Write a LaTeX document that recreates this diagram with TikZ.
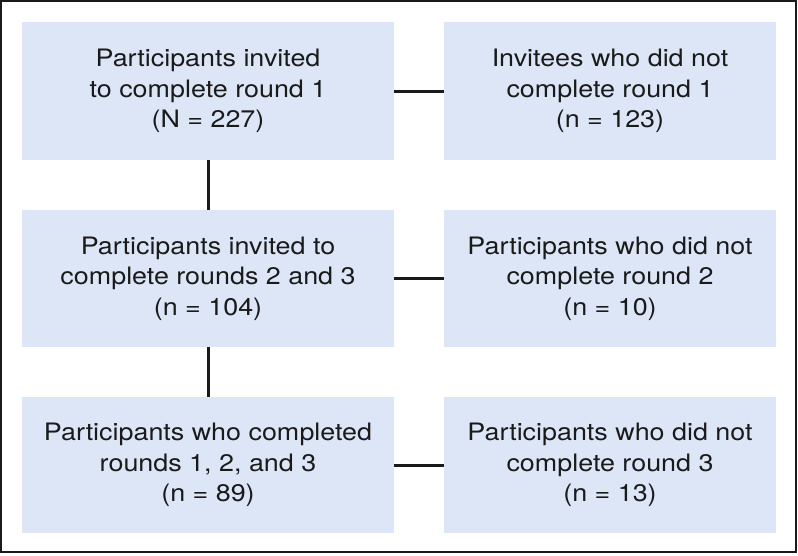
\documentclass[tikz,border=0pt]{standalone}
\usepackage{fontspec}
\setmainfont{TeX Gyre Heros}[FakeStretch=1.12]
\definecolor{boxfill}{HTML}{DCE6F7}
\definecolor{ink}{HTML}{1A1A1A}
\begin{document}
\begin{tikzpicture}[x=1pt,y=-1pt,
  flowbox/.style={fill=boxfill, draw=none, minimum width=#1, align=center, inner sep=0pt,
    font=\fontsize{24}{30.5}\selectfont, text=ink},
  flowbox/.default=372pt,
  link/.style={draw=ink, line width=3pt}]
\useasboundingbox (0,0) rectangle (798,555);
\draw[ink, line width=2pt] (1,1) rectangle (796,552);
% left column boxes
\node[flowbox=372pt, minimum height=138pt] (a1) at (208,91) {Participants invited\\to complete round 1\\(N = 227)};
\node[flowbox=372pt, minimum height=137pt] (a2) at (208,278.5) {Participants invited to\\complete rounds 2 and 3\\(n = 104)};
\node[flowbox=372pt, minimum height=136pt] (a3) at (208,465) {Participants who completed\\rounds 1, 2, and 3\\(n = 89)};
% right column boxes
\node[flowbox=332pt, minimum height=138pt] (b1) at (610,91) {Invitees who did not\\complete round 1\\(n = 123)};
\node[flowbox=332pt, minimum height=137pt] (b2) at (610,278.5) {Participants who did not\\complete round 2\\(n = 10)};
\node[flowbox=332pt, minimum height=136pt] (b3) at (610,465) {Participants who did not\\complete round 3\\(n = 13)};
% connectors
\draw[link] (a1.south) -- (a2.north);
\draw[link] (a2.south) -- (a3.north);
\draw[link] (a1.east) -- (b1.west);
\draw[link] (a2.east) -- (b2.west);
\draw[link] (a3.east) -- (b3.west);
\end{tikzpicture}
\end{document}
